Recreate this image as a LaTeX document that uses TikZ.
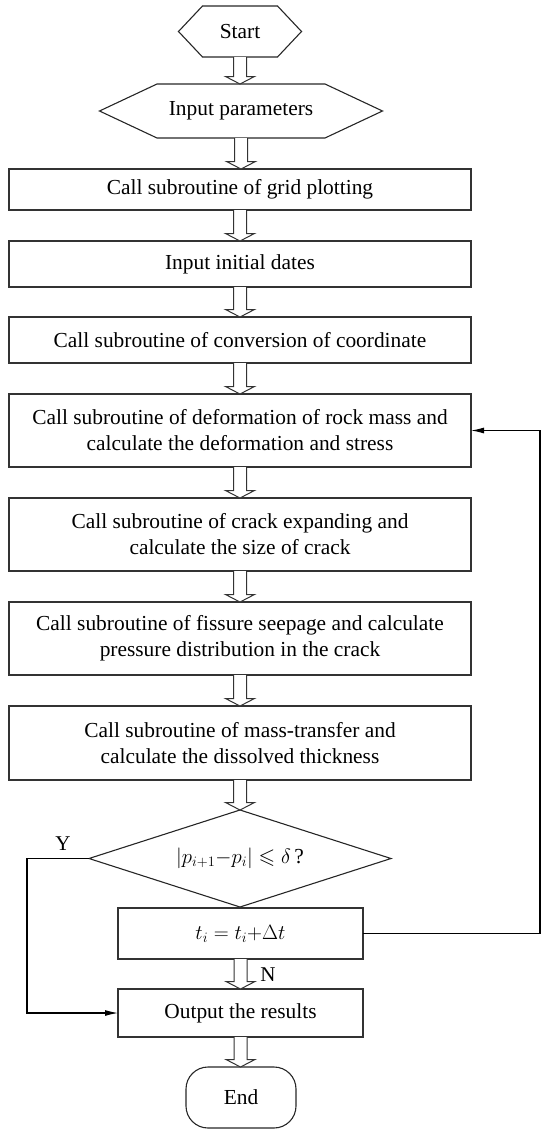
\documentclass[tikz,border=0pt]{standalone}
\usepackage{amssymb}
\usepackage{fontspec}
\setmainfont{Liberation Serif}
\usetikzlibrary{calc,arrows.meta,shapes.geometric}
\tikzset{
  txt/.style={font=\fontsize{21.4}{26}\selectfont, align=center, inner sep=0pt, outer sep=0pt},
  box/.style={txt, draw=black!80, line width=1.1pt, minimum width=462pt},
  sbox/.style={txt, draw=black!80, line width=1.1pt, minimum width=245pt},
  hexline/.style={draw=black!85, line width=1.1pt, line join=miter},
  harr/.style={draw=black!80, line width=1pt, fill=white},
  conn/.style={draw=black, line width=1.1pt, -{Latex[length=13pt,width=6pt]}},
  lbl/.style={font=\fontsize{21}{24}\selectfont, inner sep=0pt}
}
\newcommand\harrow[2]{%
  \path[harr] let \p1=(#1.south), \p2=(#2.north) in
    (\x1-6.5pt,\y1) -- (\x1-6.5pt,\y2+7.5pt) -- (\x1-14.5pt,\y2+7.5pt) --
    (\x1,\y2) -- (\x1+14.5pt,\y2+7.5pt) -- (\x1+6.5pt,\y2+7.5pt) -- (\x1+6.5pt,\y1);}
\begin{document}
\begin{tikzpicture}[x=1pt,y=-1pt]
\useasboundingbox (0,0) rectangle (542,1130);
% start hexagon
\node[txt, minimum width=75pt, minimum height=51pt] (start) at (240,31.5) {Start};
\draw[hexline] (start.north west) -- (start.north east) -- ([xshift=24pt]start.east)
  -- (start.south east) -- (start.south west) -- ([xshift=-24pt]start.west) -- cycle;
% input parameters hexagon
\node[txt, minimum width=168pt, minimum height=54pt] (inp) at (241,111) {Input parameters};
\draw[hexline] (inp.north west) -- (inp.north east) -- ([xshift=57.5pt]inp.east)
  -- (inp.south east) -- (inp.south west) -- ([xshift=-57.5pt]inp.west) -- cycle;
% boxes
\node[box, minimum height=41pt] (b1) at (240,189.5) {Call subroutine of grid plotting};
\node[box, minimum height=46pt] (b2) at (240,264) {Input initial dates};
\node[box, minimum height=46pt] (b3) at (240,340) {Call subroutine of conversion of coordinate};
\node[box, minimum height=73pt] (b4) at (240,430.5) {Call subroutine of deformation of rock mass and\\calculate the deformation and stress};
\node[box, minimum height=73pt] (b5) at (240,534.5) {Call subroutine of crack expanding and\\calculate the size of crack};
\node[box, minimum height=73pt] (b6) at (240,638.5) {Call subroutine of fissure seepage and calculate\\pressure distribution in the crack};
\node[box, minimum height=74pt] (b7) at (240,743) {Call subroutine of mass-transfer and\\calculate the dissolved thickness};
% decision
\node[txt, shape=diamond, aspect=3.1, draw=black!85, line width=1.1pt, minimum width=302pt, minimum height=97pt] (dia) at (240,858.5) {$|p_{i+1}{-}p_i|\leqslant\delta$\,?};
\node[sbox, minimum height=51pt] (tb) at (240.5,933.5) {$t_i=t_i{+}\Delta t$};
\node[sbox, minimum height=48pt] (outb) at (240.5,1013) {Output the results};
\node[txt, draw=black!85, line width=1.1pt, rounded corners=22pt, minimum width=110pt, minimum height=61pt] (endn) at (241,1097.5) {End};
% hollow arrows
\harrow{start}{inp}
\harrow{inp}{b1}
\harrow{b1}{b2}
\harrow{b2}{b3}
\harrow{b3}{b4}
\harrow{b4}{b5}
\harrow{b5}{b6}
\harrow{b6}{b7}
\harrow{b7}{dia}
\harrow{tb}{outb}
\harrow{outb}{endn}
% loop and Y connectors
\coordinate (rx) at (540,0);
\coordinate (lx) at (27,0);
\draw[conn] (tb.east) -- (tb.east -| rx) |- (b4.east);
\draw[conn] (dia.west) -- (dia.west -| lx) |- (outb.west);
\node[lbl] (ylab) at (63,844) {Y};
\node[lbl] (nlab) at (268,975) {N};
\end{tikzpicture}
\end{document}
